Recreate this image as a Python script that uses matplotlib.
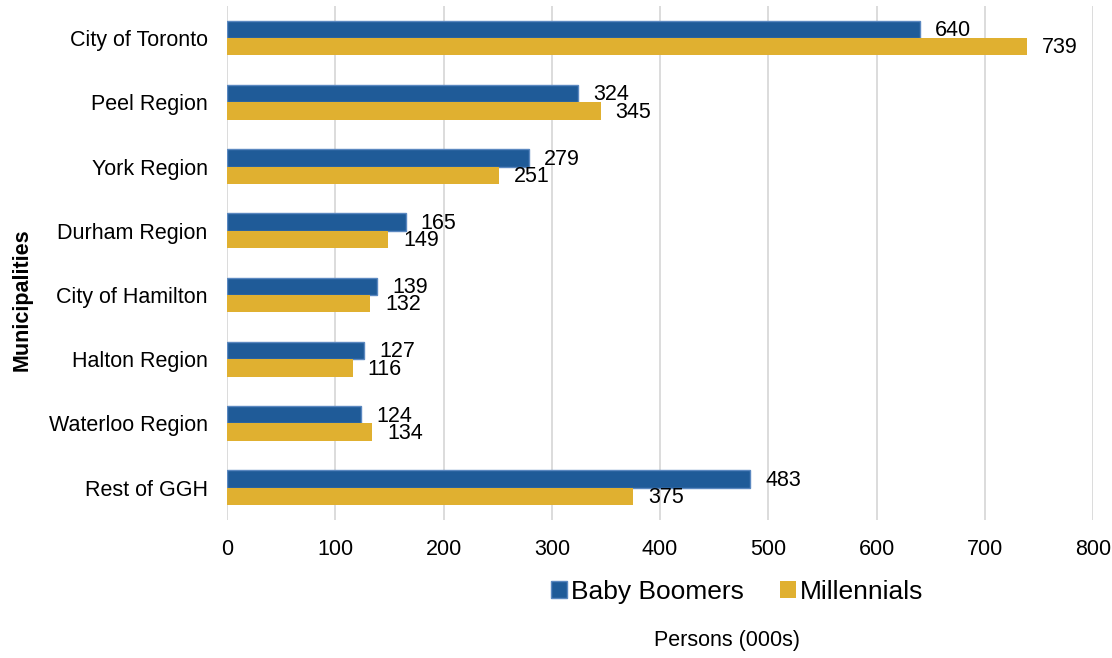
import matplotlib.pyplot as plt
import numpy as np

plt.rcParams['font.family'] = ['Liberation Sans', 'DejaVu Sans']

# data (persons, 000s)
municipalities = ['City of Toronto', 'Peel Region', 'York Region', 'Durham Region',
                  'City of Hamilton', 'Halton Region', 'Waterloo Region', 'Rest of GGH']
baby_boomers = [640, 324, 279, 165, 139, 127, 124, 483]
millennials = [739, 345, 251, 149, 132, 116, 134, 375]

c_blue = '#1F5B98'
c_blue_edge = '#5B88C0'
c_gold = '#E0B030'

fig = plt.figure(figsize=(11.12, 6.58), dpi=100)
ax = fig.add_axes([0.2041, 0.210, 0.779, 0.781])

y = np.arange(len(municipalities))
h = 0.27

ax.barh(y - h / 2, baby_boomers, height=h, color=c_blue, edgecolor=c_blue_edge,
        linewidth=1, label='Baby Boomers', zorder=3)
ax.barh(y + h / 2, millennials, height=h, color=c_gold, edgecolor=c_gold,
        linewidth=0, label='Millennials', zorder=3)

for i in range(len(municipalities)):
    ax.text(baby_boomers[i] + 14, y[i] - h / 2 + 0.02, str(baby_boomers[i]),
            va='center', ha='left', fontsize=15.5)
    ax.text(millennials[i] + 14, y[i] + h / 2 + 0.02, str(millennials[i]),
            va='center', ha='left', fontsize=15.5)

ax.set_ylim(len(municipalities) - 0.5, -0.5)
ax.set_xlim(0, 800)
ax.set_xticks(np.arange(0, 801, 100))
ax.set_yticks(y)
ax.set_yticklabels(municipalities, fontsize=15.5)
ax.tick_params(axis='x', labelsize=15.5, length=0, pad=14)
ax.tick_params(axis='y', length=0, pad=14)

ax.grid(axis='x', color='#D9D9D9', linewidth=1.3, zorder=0)
for s in ['top', 'right', 'bottom', 'left']:
    ax.spines[s].set_visible(False)

fig.text(0.0198, 0.544, 'Municipalities', rotation=90, ha='center', va='center',
         fontsize=15.5, fontweight='bold')

ax.legend(loc='center', bbox_to_anchor=(0.589, -0.14), ncol=2, frameon=False,
          fontsize=19, handlelength=0.6, handleheight=0.6, handletextpad=0.15,
          columnspacing=1.4)

fig.text(0.654, 0.027, 'Persons (000s)', ha='center', va='center', fontsize=15.5)

plt.savefig('out.png', dpi=100)
